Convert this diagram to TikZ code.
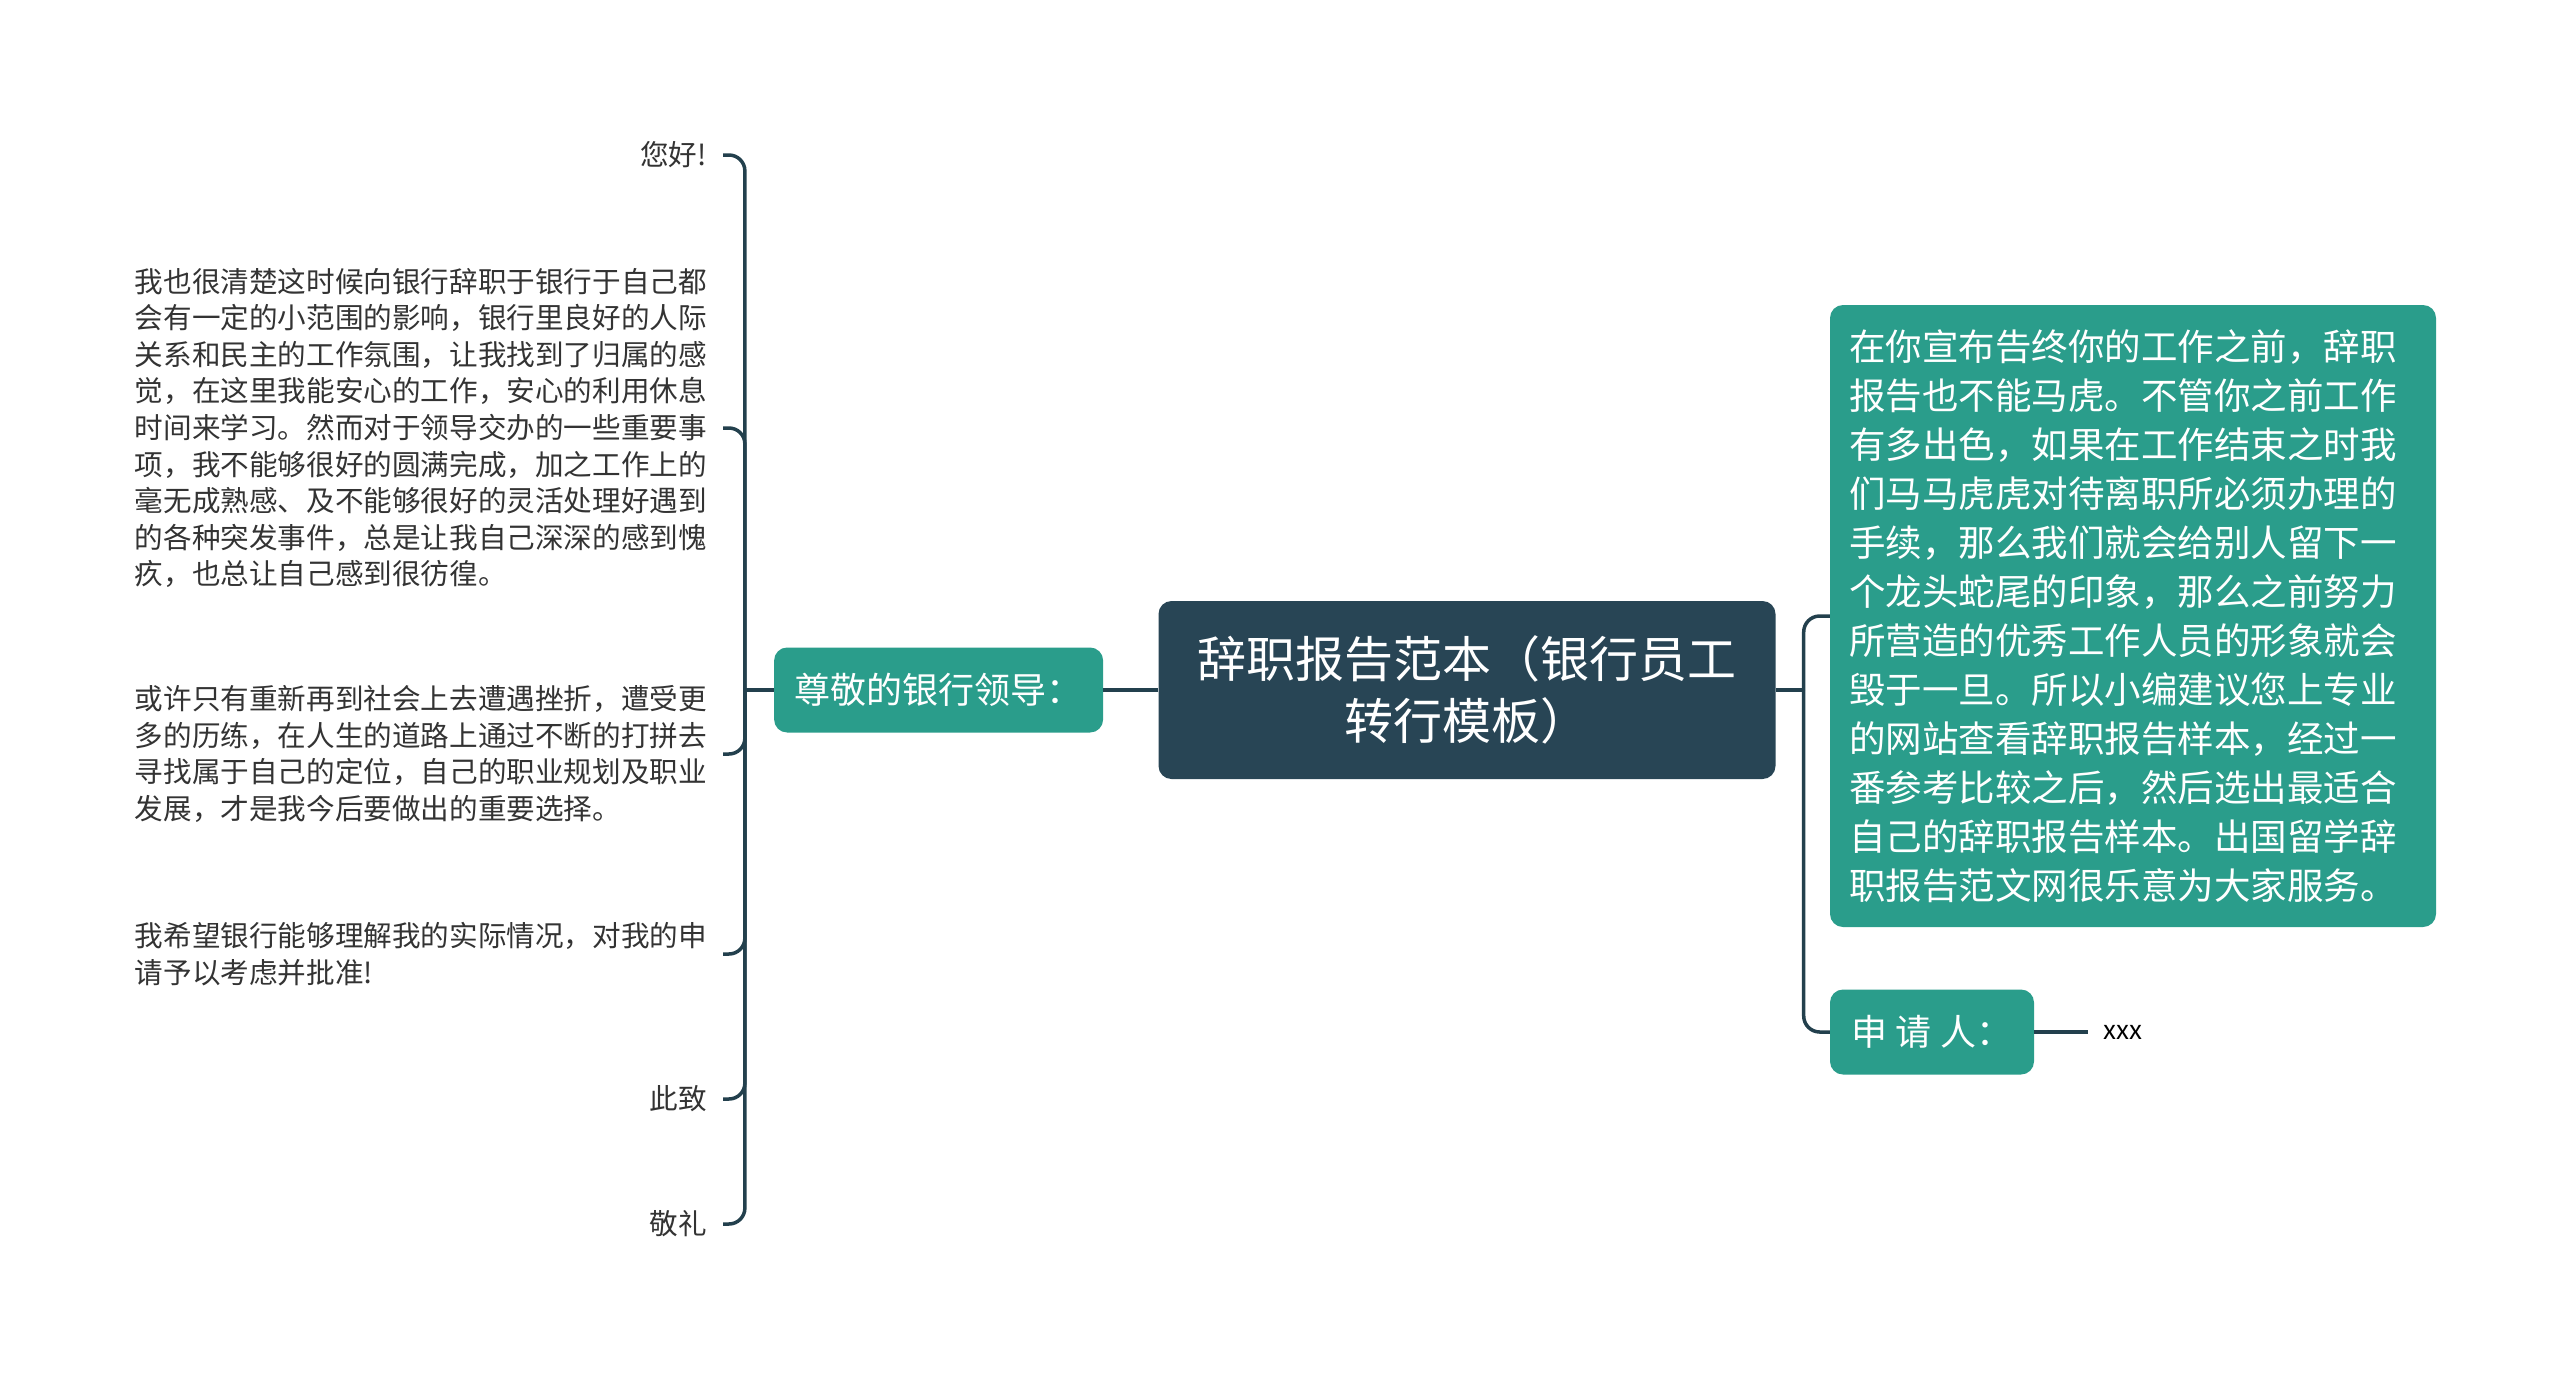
\documentclass[tikz,border=0pt]{standalone}
\usepackage{fontspec}
\setmainfont{Noto Sans CJK SC}
\usetikzlibrary{positioning}
\definecolor{rootblue}{HTML}{284555}
\definecolor{mapteal}{HTML}{2A9D8B}
\definecolor{linkblue}{HTML}{23404D}
\definecolor{leafgray}{HTML}{333333}

\begin{document}
\begin{tikzpicture}
  [x=1pt, y=-1pt, node distance=55pt,
   every node/.style={inner sep=0pt},
   rootbox/.style={fill=rootblue, text=white, rounded corners=13pt, align=center,
     minimum width=617pt, minimum height=178pt, font=\fontsize{49}{62}\selectfont},
   tealbox/.style={fill=mapteal, text=white, rounded corners=13pt,
     font=\fontsize{36}{44}\selectfont},
   leaf/.style={anchor=east, inner xsep=16pt, align=left, text=leafgray,
     font=\fontsize{28.6}{36.6}\selectfont},
   link/.style={draw=linkblue, line width=3.5pt, rounded corners=16pt}]
  \useasboundingbox (0,0) rectangle (2560,1382);

  \node [rootbox] (root) at (1467,690) {辞职报告范本（银行员工\\转行模板）};
  \node [tealbox, minimum width=329pt, minimum height=85pt, left=of root] (boss) {尊敬的银行领导：};

  \node [leaf] (hello) at (723,155) {您好!};
  \node [leaf] (para1) at (723,428) {我也很清楚这时候向银行辞职于银行于自己都\\
    会有一定的小范围的影响，银行里良好的人际\\
    关系和民主的工作氛围，让我找到了归属的感\\
    觉，在这里我能安心的工作，安心的利用休息\\
    时间来学习。然而对于领导交办的一些重要事\\
    项，我不能够很好的圆满完成，加之工作上的\\
    毫无成熟感、及不能够很好的灵活处理好遇到\\
    的各种突发事件，总是让我自己深深的感到愧\\
    疚，也总让自己感到很彷徨。};
  \node [leaf] (para2) at (723,754) {或许只有重新再到社会上去遭遇挫折，遭受更\\
    多的历练，在人生的道路上通过不断的打拼去\\
    寻找属于自己的定位，自己的职业规划及职业\\
    发展，才是我今后要做出的重要选择。};
  \node [leaf] (para3) at (723,954) {我希望银行能够理解我的实际情况，对我的申\\
    请予以考虑并批准!};
  \node [leaf] (cizhi) at (723,1099) {此致};
  \node [leaf] (jingli) at (723,1224) {敬礼};

  \node [tealbox, text width=568pt, inner xsep=19pt, minimum height=622pt, align=left,
    font=\fontsize{36.5}{49}\selectfont] (advice) at (2133,616)
    {在你宣布告终你的工作之前，辞职\\
    报告也不能马虎。不管你之前工作\\
    有多出色，如果在工作结束之时我\\
    们马马虎虎对待离职所必须办理的\\
    手续，那么我们就会给别人留下一\\
    个龙头蛇尾的印象，那么之前努力\\
    所营造的优秀工作人员的形象就会\\
    毁于一旦。所以小编建议您上专业\\
    的网站查看辞职报告样本，经过一\\
    番参考比较之后，然后选出最适合\\
    自己的辞职报告样本。出国留学辞\\
    职报告范文网很乐意为大家服务。};
  \node [tealbox, minimum width=204pt, minimum height=85pt] (applicant) at (1932,1032) {申 请 人：};
  \node [anchor=west, inner xsep=15pt, text=black, font=\fontsize{26}{30}\selectfont]
    (xxx) at (2088,1032) {xxx};

  \path (boss.west) ++(-29,0) coordinate (lj);
  \path (root.east) ++(28,0) coordinate (rj);

  \draw [link] (root.west) -- (boss.east);
  \draw [link] (boss.west) -- (lj);
  \foreach \leafname in {hello,para1,para2,para3,cizhi,jingli}
    \draw [link] (lj) |- (\leafname.east);
  \draw [link] (root.east) -- (rj);
  \draw [link] (rj) |- (advice.west);
  \draw [link] (rj) |- (applicant.west);
  \draw [link] (applicant.east) -- (xxx.west);
\end{tikzpicture}
\end{document}
